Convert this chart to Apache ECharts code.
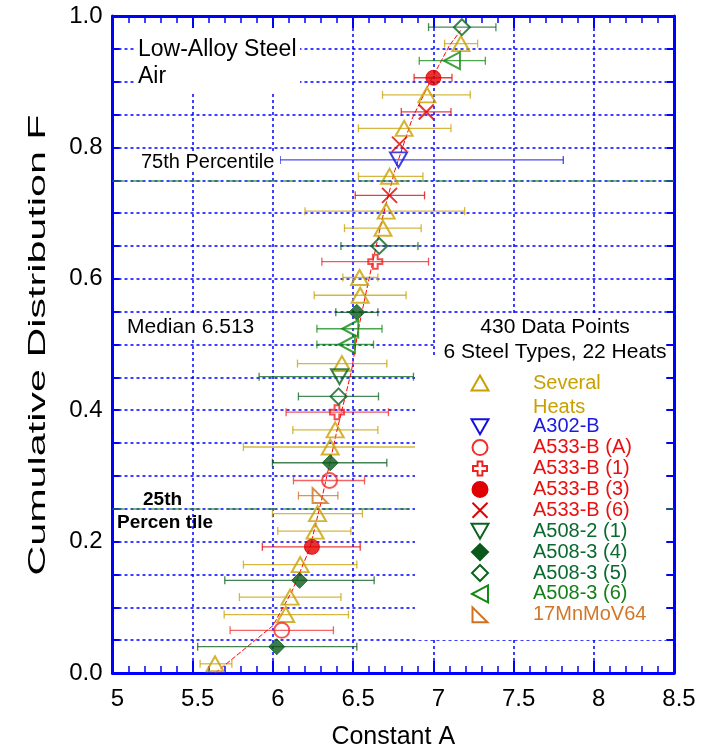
<!DOCTYPE html>
<html><head><meta charset="utf-8">
<script src="https://cdn.jsdelivr.net/npm/echarts@6/dist/echarts.min.js"></script>
<style>html,body{margin:0;padding:0;background:#fff}#c{width:710px;height:750px}</style>
</head><body><div id="c"></div>
<script>
// Each point: [Constant A, Cumulative F, A lower, A upper]
const severalHeats = [
  [7.172,0.958,7.07,7.276],[6.96,0.880,6.683,7.23],[6.818,0.829,6.533,7.11],
  [6.727,0.756,6.533,6.935],[6.706,0.703,6.20,7.195],[6.686,0.677,6.446,6.924],
  [6.54,0.602,6.436,6.654],[6.544,0.575,6.257,6.83],[6.43,0.471,6.153,6.71],
  [6.388,0.370,6.124,6.654],[6.357,0.344,5.816,6.93],[6.278,0.2425,5.997,6.558],
  [6.263,0.216,6.03,6.486],[6.17,0.165,5.816,6.523],[6.107,0.1155,5.791,6.424],
  [6.08,0.089,5.696,6.471],[5.639,0.014,5.546,5.744]
];
const a302B = [[6.783,0.781,6.045,7.81]];
const a533BA = [[6.353,0.293,6.128,6.571],[6.055,0.065,5.733,6.377]];
const a533B1 = [[6.638,0.626,6.305,6.97],[6.399,0.397,6.082,6.72]];
const a533B3 = [[7.0,0.906,6.88,7.116],[6.243,0.192,5.934,6.544]];
const a533B6 = [[6.956,0.854,6.80,7.11],[6.789,0.805,null,null],[6.727,0.727,6.513,6.945]];
const a508_2_1 = [[6.415,0.451,5.914,6.876]];
const a508_3_4 = [[6.523,0.549,6.392,6.654],[6.357,0.320,5.997,6.71],[6.166,0.141,5.70,6.631],[6.024,0.040,5.531,6.523]];
const a508_3_5 = [[7.178,0.983,6.97,7.39],[6.663,0.650,6.424,6.904],[6.409,0.421,6.159,6.658]];
const a508_3_6 = [[7.116,0.932,6.912,7.324],[6.482,0.524,6.274,6.68],[6.461,0.500,6.274,6.627]];
const mnMoV64 = [[6.294,0.270,6.159,6.405]];
// fitted distribution curve
const fitCurve = [[5.64,0.0],[6.0,0.072],[6.12,0.125],[6.23,0.19],[6.30,0.26],[6.40,0.37],[6.49,0.46],
  [6.53,0.52],[6.59,0.59],[6.68,0.69],[6.76,0.765],[6.87,0.845],[6.98,0.90],[7.10,0.955],[7.17,0.978]];
const percentileLevels = [0.25, 0.75];
const xTicks = {min:5, max:8.5, step:0.5};
const yTicks = {min:0, max:1, step:0.05, labelStep:0.2};

// symbol shapes as unit polygons (0..1 box) / special kinds
const SHAPES = {
  triUp:[[0.5,0],[1,1],[0,1]],
  triDown:[[0,0],[1,0],[0.5,1]],
  plus:[[0.33,0],[0.67,0],[0.67,0.33],[1,0.33],[1,0.67],[0.67,0.67],[0.67,1],[0.33,1],[0.33,0.67],[0,0.67],[0,0.33],[0.33,0.33]],
  diamond:[[0.5,0],[1,0.5],[0.5,1],[0,0.5]],
  triLeft:[[0,0.5],[1,0],[1,1]],
  rightTri:[[0,0],[0,1],[1,1]]
};
function toPath(kind){
  if (kind === 'circle') return 'path://M0,50A50,50,0,1,1,100,50A50,50,0,1,1,0,50Z';
  if (kind === 'cross') return 'path://M0,0L100,100M100,0L0,100';
  const pts = SHAPES[kind];
  return 'path://M' + pts.map(p => (p[0]*100)+','+(p[1]*100)).join('L') + 'Z';
}
const FONT = '"Liberation Sans", Arial, sans-serif';
const BLUE = '#0000ff';

const groups = [
  {name:'Several Heats', data:severalHeats, color:'#c8a000', text:'#c8a000', kind:'triUp', fill:false, size:[17,15]},
  {name:'A302-B', data:a302B, color:'#1010e0', text:'#1a1ae0', kind:'triDown', fill:false, size:[17,15]},
  {name:'A533-B (A)', data:a533BA, color:'#f03030', text:'#e81010', kind:'circle', fill:false, size:[15,15]},
  {name:'A533-B (1)', data:a533B1, color:'#f02020', text:'#e81010', kind:'plus', fill:false, size:[14,14]},
  {name:'A533-B (3)', data:a533B3, color:'#e00000', text:'#e81010', kind:'circle', fill:true, size:[15,15]},
  {name:'A533-B (6)', data:a533B6, color:'#e00000', text:'#e81010', kind:'cross', fill:false, size:[15,15]},
  {name:'A508-2 (1)', data:a508_2_1, color:'#0a6420', text:'#0a6a30', kind:'triDown', fill:false, size:[17,15]},
  {name:'A508-3 (4)', data:a508_3_4, color:'#0a5a1a', text:'#0a6a30', kind:'diamond', fill:true, size:[16,16]},
  {name:'A508-3 (5)', data:a508_3_5, color:'#0a6420', text:'#0a6a30', kind:'diamond', fill:false, size:[16,16]},
  {name:'A508-3 (6)', data:a508_3_6, color:'#128a12', text:'#15801a', kind:'triLeft', fill:false, size:[16,17]},
  {name:'17MnMoV64', data:mnMoV64, color:'#d07020', text:'#d07828', kind:'rightTri', fill:false, size:[15,15]}
];

function errRender(color){
  return function(params, api){
    const lo = api.value(2), hi = api.value(3), f = api.value(1);
    if (isNaN(lo) || isNaN(hi)) return null;
    const a = api.coord([lo, f]), b = api.coord([hi, f]);
    const h = 4;
    const st = {stroke: color, lineWidth: 1.3, opacity: 0.75};
    return {type:'group', children:[
      {type:'line', shape:{x1:a[0],y1:a[1],x2:b[0],y2:b[1]}, style:st},
      {type:'line', shape:{x1:a[0],y1:a[1]-h,x2:a[0],y2:a[1]+h}, style:st},
      {type:'line', shape:{x1:b[0],y1:b[1]-h,x2:b[0],y2:b[1]+h}, style:st}
    ]};
  };
}

const series = [];
groups.forEach(g => {
  series.push({type:'custom', name:g.name+' err', data:g.data, renderItem:errRender(g.color),
    encode:{x:0,y:1}, z:2, silent:true});
});
series.push({type:'line', name:'fit', data:fitCurve, showSymbol:false, symbol:'none', z:3,
  lineStyle:{color:'#ff0000', width:1, type:[5,2]},
  markLine:{silent:true, symbol:'none', label:{show:false},
    lineStyle:{color:'#2a8a3a', width:1.5, type:[12,7], opacity:0.8},
    data: percentileLevels.map(v => ({yAxis:v}))}
});
groups.forEach(g => {
  series.push({type:'scatter', name:g.name, data:g.data, encode:{x:0,y:1}, z:4,
    symbol:toPath(g.kind), symbolSize:g.size, symbolKeepAspect:true,
    itemStyle: g.fill ? {color:g.color, borderColor:g.color, borderWidth:1}
                      : {color:'rgba(0,0,0,0)', borderColor:g.color, borderWidth:2}
  });
});

// graphic: text boxes and legend
const graphic = [];
function rect(x,y,w,h){ graphic.push({type:'rect', z:100, shape:{x,y,width:w,height:h}, style:{fill:'#fff'}, silent:true}); }
function txt(s,x,y,font,fill,align){
  graphic.push({type:'text', z:102, x, y, silent:true,
    style:{text:s, font, fill:fill||'#000', align:align||'left', verticalAlign:'middle',
      textAlign:align||'left', textVerticalAlign:'middle'}});
}
function icon(kind, cx, cy, w, h, color, fill){
  const st = {fill: fill ? color : 'none', stroke:color, lineWidth:2};
  if (kind === 'circle') {
    graphic.push({type:'circle', z:103, silent:true, shape:{cx, cy, r:w/2}, style:st});
  } else if (kind === 'cross') {
    graphic.push({type:'line', z:103, silent:true, shape:{x1:cx-w/2,y1:cy-h/2,x2:cx+w/2,y2:cy+h/2}, style:st});
    graphic.push({type:'line', z:103, silent:true, shape:{x1:cx+w/2,y1:cy-h/2,x2:cx-w/2,y2:cy+h/2}, style:st});
  } else {
    const pts = SHAPES[kind].map(p => [cx - w/2 + p[0]*w, cy - h/2 + p[1]*h]);
    graphic.push({type:'polygon', z:103, silent:true, shape:{points:pts}, style:st});
  }
}
rect(134,28,166,64);
rect(138,151,142,21);
rect(124,316,131,22);
rect(436,313,230,44);
rect(415,356,251,284);
txt('Low-Alloy Steel',138,50,'23px '+FONT);
txt('Air',138,77,'23px '+FONT);
txt('75th Percentile',141,162,'20px '+FONT);
txt('Median 6.513',127,327,'21px '+FONT);
txt('25th',143,500,'bold 19px '+FONT);
txt('Percen tile',117,523,'bold 19px '+FONT);
txt('430 Data Points',555,327,'21px '+FONT,'#000','center');
txt('6 Steel Types, 22 Heats',555,352,'21px '+FONT,'#000','center');
// y axis title (wide-spaced in the original)
graphic.push({type:'text', z:102, x:38, y:345, rotation:Math.PI/2, scaleX:1.72, silent:true,
  style:{text:'Cumulative Distribution F', font:'24px '+FONT, fill:'#000',
    align:'center', verticalAlign:'middle', textAlign:'center', textVerticalAlign:'middle'}});

const legendRows = [383].concat(groups.slice(1).map((g,i)=>426.7+20.9*i));
groups.forEach((g,i) => {
  const yc = legendRows[i];
  icon(g.kind, 480, yc, g.size[0], g.size[1], g.color, g.fill);
  const label = g.name === 'Several Heats' ? 'Several' : g.name;
  txt(label, 533, yc, '20px '+FONT, g.text);
  if (g.name === 'Several Heats') txt('Heats', 533, 407, '20px '+FONT, g.text);
});

const axisCommon = {
  axisLine:{show:true, onZero:false, lineStyle:{color:BLUE, width:3}},
};
const option = {
  animation:false,
  backgroundColor:'#fff',
  grid:{left:112.5, right:36, top:16, bottom:77, containLabel:false, outerBoundsMode:'none'},
  xAxis:[
    Object.assign({type:'value', position:'bottom', min:xTicks.min, max:xTicks.max, interval:xTicks.step,
      name:'Constant A', nameLocation:'middle', nameGap:52,
      nameTextStyle:{fontSize:25, color:'#000', fontFamily:FONT},
      axisTick:{show:true, inside:true, length:12, lineStyle:{color:BLUE, width:2}},
      minorTick:{show:true, splitNumber:5, length:7, lineStyle:{color:BLUE, width:1.5}},
      splitLine:{show:true, lineStyle:{color:BLUE, width:1.5, type:[3,3]}},
      axisLabel:{fontSize:24, color:'#000', fontFamily:FONT, margin:14, padding:[0,0,0,10],
        formatter: v => String(Math.round(v*10)/10)}
    }, axisCommon),
    Object.assign({type:'value', position:'top', min:xTicks.min, max:xTicks.max, interval:xTicks.step,
      axisTick:{show:true, inside:true, length:12, lineStyle:{color:BLUE, width:2}},
      minorTick:{show:true, splitNumber:5, length:7, lineStyle:{color:BLUE, width:1.5}},
      splitLine:{show:false}, axisLabel:{show:false}
    }, axisCommon)
  ],
  yAxis:[
    Object.assign({type:'value', position:'left', min:yTicks.min, max:yTicks.max, interval:yTicks.step,
      axisTick:{show:true, inside:true, length:7, lineStyle:{color:BLUE, width:2}},
      splitLine:{show:true, lineStyle:{color:BLUE, width:1.5, type:[3,3]}},
      axisLabel:{fontSize:24, color:'#000', fontFamily:FONT, margin:10,
        formatter: v => (Math.round(v*100) % Math.round(yTicks.labelStep*100) === 0) ? v.toFixed(1) : ''}
    }, axisCommon),
    Object.assign({type:'value', position:'right', min:yTicks.min, max:yTicks.max, interval:yTicks.step,
      axisTick:{show:true, inside:true, length:7, lineStyle:{color:BLUE, width:2}},
      splitLine:{show:false}, axisLabel:{show:false}
    }, axisCommon)
  ],
  graphic: graphic,
  series: series
};
const chart = echarts.init(document.getElementById('c'), null, {renderer:'canvas'});
chart.setOption(option);
</script>
</body></html>
